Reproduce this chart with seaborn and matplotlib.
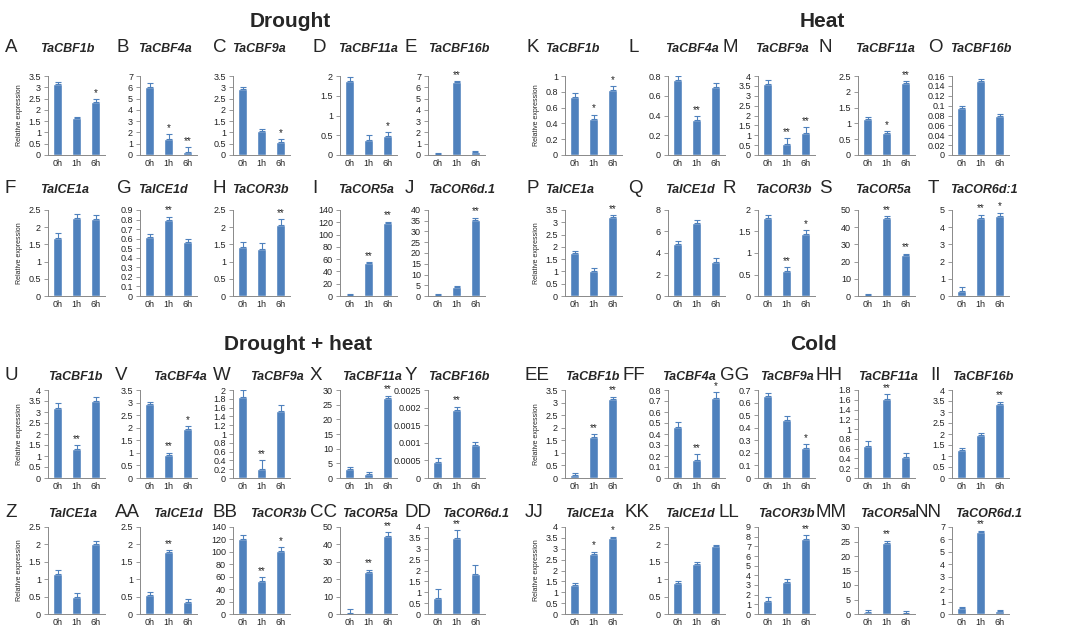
import matplotlib
matplotlib.use("Agg")
import matplotlib.pyplot as plt
import pandas as pd
import seaborn as sns

sns.set_style("white")
plt.rcParams["font.family"] = ["Liberation Sans", "DejaVu Sans"]

TIMES = ["0h", "1h", "6h"]
BLUE = "#4F81BD"
GREY = "#898989"

# --- dados ------------------------------------------------------------------
# linha 1: genes CBF, seca (A-E) e calor (K-O)
row1_letters = ["A", "B", "C", "D", "E", "K", "L", "M", "N", "O"]
row1_genes = ["TaCBF1b", "TaCBF4a", "TaCBF9a", "TaCBF11a", "TaCBF16b",
              "TaCBF1b", "TaCBF4a", "TaCBF9a", "TaCBF11a", "TaCBF16b"]
row1_values = [[3.15, 1.62, 2.37], [6.0, 1.45, 0.25], [2.92, 1.05, 0.58],
               [1.88, 0.39, 0.47], [0.1, 6.5, 0.25], [0.73, 0.46, 0.82],
               [0.76, 0.35, 0.69], [3.6, 0.55, 1.1], [1.15, 0.7, 2.28],
               [0.095, 0.149, 0.078]]
row1_errors = [[0.1, 0.08, 0.1], [0.38, 0.42, 0.45], [0.1, 0.12, 0.12],
               [0.1, 0.11, 0.1], [0.05, 0.07, 0.07], [0.05, 0.05, 0.05],
               [0.04, 0.04, 0.04], [0.2, 0.3, 0.3], [0.05, 0.06, 0.05],
               [0.005, 0.004, 0.005]]
row1_stars = [["", "", "*"], ["", "*", "**"], ["", "", "*"], ["", "", "*"],
              ["", "**", ""], ["", "*", "*"], ["", "**", ""], ["", "**", "**"],
              ["", "*", "**"], ["", "", ""]]
row1_ymax = [3.5, 7, 3.5, 2, 7, 1, 0.8, 4, 2.5, 0.16]
row1_ystep = [0.5, 1, 0.5, 0.5, 1, 0.2, 0.2, 0.5, 0.5, 0.02]

# linha 2: ICE/COR, seca (F-J) e calor (P-T)
row2_letters = ["F", "G", "H", "I", "J", "P", "Q", "R", "S", "T"]
row2_genes = ["TaICE1a", "TaICE1d", "TaCOR3b", "TaCOR5a", "TaCOR6d.1",
              "TaICE1a", "TaICE1d", "TaCOR3b", "TaCOR5a", "TaCOR6d:1"]
row2_values = [[1.7, 2.26, 2.24], [0.615, 0.795, 0.565], [1.43, 1.37, 2.07],
               [1.5, 53, 119], [0.3, 4, 35.5], [1.75, 1.03, 3.2],
               [4.8, 6.75, 3.2], [1.81, 0.58, 1.45], [0.3, 45.5, 24],
               [0.3, 4.55, 4.65]]
row2_errors = [[0.12, 0.12, 0.12], [0.035, 0.035, 0.03], [0.15, 0.17, 0.17],
               [1, 2, 2], [0.7, 0.7, 1], [0.1, 0.1, 0.1], [0.3, 0.35, 0.3],
               [0.08, 0.09, 0.08], [0.8, 1, 0.6], [0.2, 0.18, 0.2]]
row2_stars = [["", "", ""], ["", "**", ""], ["", "", "**"], ["", "**", "**"],
              ["", "", "**"], ["", "", "**"], ["", "", ""], ["", "**", "*"],
              ["", "**", "**"], ["", "**", "*"]]
row2_ymax = [2.5, 0.9, 2.5, 140, 40, 3.5, 8, 2, 50, 5]
row2_ystep = [0.5, 0.1, 0.5, 20, 5, 0.5, 2, 0.5, 10, 1]

# linha 3: genes CBF, seca + calor (U-Y) e frio (EE-II)
row3_letters = ["U", "V", "W", "X", "Y", "EE", "FF", "GG", "HH", "II"]
row3_genes = ["TaCBF1b", "TaCBF4a", "TaCBF9a", "TaCBF11a", "TaCBF16b",
              "TaCBF1b", "TaCBF4a", "TaCBF9a", "TaCBF11a", "TaCBF16b"]
row3_values = [[3.2, 1.3, 3.5], [2.95, 0.9, 1.93], [1.85, 0.2, 1.52],
               [3, 1.5, 27.3], [0.00046, 0.00192, 0.00093], [0.1, 1.62, 3.15],
               [0.46, 0.165, 0.73], [0.65, 0.46, 0.24], [0.65, 1.62, 0.42],
               [1.28, 1.96, 3.37]]
row3_errors = [[0.2, 0.2, 0.18], [0.08, 0.1, 0.12], [0.15, 0.2, 0.15],
               [0.6, 0.6, 0.8], [0.0001, 0.00011, 0.0001], [0.1, 0.12, 0.08],
               [0.05, 0.05, 0.05], [0.03, 0.03, 0.03], [0.11, 0.09, 0.1],
               [0.1, 0.1, 0.1]]
row3_stars = [["", "**", ""], ["", "**", "*"], ["", "**", ""], ["", "", "**"],
              ["", "**", ""], ["", "**", "**"], ["", "**", "*"], ["", "", "*"],
              ["", "**", ""], ["", "", "**"]]
row3_ymax = [4, 3.5, 2, 30, 0.0025, 3.5, 0.8, 0.7, 1.8, 4]
row3_ystep = [0.5, 0.5, 0.2, 5, 0.0005, 0.5, 0.1, 0.1, 0.2, 0.5]

# linha 4: ICE/COR, seca + calor (Z-DD) e frio (JJ-NN)
row4_letters = ["Z", "AA", "BB", "CC", "DD", "JJ", "KK", "LL", "MM", "NN"]
row4_genes = ["TaICE1a", "TaICE1d", "TaCOR3b", "TaCOR5a", "TaCOR6d.1",
              "TaICE1a", "TaICE1d", "TaCOR3b", "TaCOR5a", "TaCOR6d.1"]
row4_values = [[1.15, 0.5, 2.02], [0.55, 1.78, 0.35], [120, 53, 101],
               [0.5, 24, 45], [0.75, 3.5, 1.85], [1.35, 2.78, 3.5],
               [0.9, 1.45, 1.95], [1.35, 3.3, 7.8], [0.8, 24.5, 0.3],
               [0.5, 6.6, 0.25]]
row4_errors = [[0.12, 0.1, 0.08], [0.07, 0.06, 0.07], [7, 6, 7],
               [2.5, 1.5, 2], [0.4, 0.35, 0.4], [0.08, 0.08, 0.06],
               [0.04, 0.04, 0.04], [0.4, 0.35, 0.35], [0.5, 0.8, 0.6],
               [0.1, 0.1, 0.1]]
row4_stars = [["", "", ""], ["", "**", ""], ["", "**", "*"], ["", "**", "**"],
              ["", "**", ""], ["", "*", "*"], ["", "", ""], ["", "", "**"],
              ["", "**", ""], ["", "**", ""]]
row4_ymax = [2.5, 2.5, 140, 50, 4, 4, 2.5, 9, 30, 7]
row4_ystep = [0.5, 0.5, 20, 10, 0.5, 0.5, 0.5, 1, 5, 1]

section_titles = ["Drought", "Heat", "Drought + heat", "Cold"]

# --- layout (pixels) ---------------------------------------------------------
W, H = 1065, 634
COL_LEFT = [48, 140, 233, 340, 428, 565, 668, 758, 858, 952]
AX_W = 57
ROW_TOP = [76, 210, 390, 527]
ROW_BOTTOM = [155, 296, 478, 614]
TITLE_BASE = [52, 193, 380, 517]
LETTER_X = [
    [5, 117, 213, 312, 405, 527, 628, 722, 819, 928],
    [5, 117, 213, 312, 405, 527, 628, 722, 819, 928],
    [5, 115, 213, 310, 405, 525, 623, 720, 815, 930],
    [5, 115, 213, 310, 405, 525, 625, 718, 815, 915],
]
GENE_X = [
    [40, 138, 232, 338, 428, 545, 665, 755, 855, 950],
    [40, 138, 232, 338, 428, 545, 665, 755, 855, 950],
    [48, 153, 250, 342, 428, 565, 662, 760, 858, 952],
    [48, 153, 250, 342, 442, 565, 665, 758, 860, 955],
]
SECTION_POS = [(290, 27), (822, 27), (298, 350), (813, 350)]
YLABEL_COLS = [0, 5]


def desenhar_painel(ax, valores, erros, estrelas, ymax, ystep, ylabel):
    df = pd.DataFrame({"tempo": TIMES, "valor": valores})
    sns.barplot(data=df, x="tempo", y="valor", color=BLUE, saturation=1,
                width=0.45, errorbar=None, ax=ax)
    ax.errorbar(range(3), valores, yerr=[[0, 0, 0], erros], fmt="none",
                ecolor=BLUE, elinewidth=0.8, capsize=2, capthick=0.8)
    for i, s in enumerate(estrelas):
        if s:
            ax.text(i, valores[i] + erros[i] + ymax * 0.015, s, ha="center",
                    va="bottom", fontsize=7, color="#222222", clip_on=False)
    ticks = [round(k * ystep, 6) for k in range(int(round(ymax / ystep)) + 1)]
    ax.set_ylim(0, ymax)
    ax.set_yticks(ticks)
    ax.set_yticklabels([f"{t:g}" for t in ticks])
    ax.set_xlim(-0.5, 2.5)
    ax.set_xticks([-0.5, 0.5, 1.5, 2.5], minor=True)
    ax.tick_params(axis="x", which="major", length=0, labelsize=6.5,
                   pad=3, labelcolor="#222222")
    ax.tick_params(axis="x", which="minor", length=3, color=GREY, width=0.6)
    ax.tick_params(axis="y", which="major", length=3, color=GREY, width=0.6,
                   labelsize=6.5, pad=2, labelcolor="#222222", left=True)
    for lado in ["top", "right"]:
        ax.spines[lado].set_visible(False)
    for lado in ["left", "bottom"]:
        ax.spines[lado].set_color(GREY)
        ax.spines[lado].set_linewidth(0.7)
    ax.set_xlabel("")
    if ylabel:
        ax.set_ylabel("Relative expression", fontsize=5, labelpad=4)
    else:
        ax.set_ylabel("")


fig = plt.figure(figsize=(W / 100, H / 100), dpi=100)

linhas = [
    (row1_letters, row1_genes, row1_values, row1_errors, row1_stars, row1_ymax, row1_ystep),
    (row2_letters, row2_genes, row2_values, row2_errors, row2_stars, row2_ymax, row2_ystep),
    (row3_letters, row3_genes, row3_values, row3_errors, row3_stars, row3_ymax, row3_ystep),
    (row4_letters, row4_genes, row4_values, row4_errors, row4_stars, row4_ymax, row4_ystep),
]

for r, (letras, genes, vals, errs, stars, ymaxs, ysteps) in enumerate(linhas):
    for c in range(10):
        left = COL_LEFT[c] / W
        bottom = 1 - ROW_BOTTOM[r] / H
        height = (ROW_BOTTOM[r] - ROW_TOP[r]) / H
        ax = fig.add_axes([left, bottom, AX_W / W, height])
        desenhar_painel(ax, vals[c], errs[c], stars[c], ymaxs[c], ysteps[c],
                        c in YLABEL_COLS)
        yb = 1 - TITLE_BASE[r] / H
        fig.text(LETTER_X[r][c] / W, yb, letras[c], fontsize=13.5, ha="left",
                 va="baseline")
        fig.text(GENE_X[r][c] / W, yb, genes[c], fontsize=9, fontweight="bold",
                 fontstyle="italic", ha="left", va="baseline")

for titulo, (x, y) in zip(section_titles, SECTION_POS):
    fig.text(x / W, 1 - y / H, titulo, fontsize=15, fontweight="bold",
             ha="center", va="baseline")

fig.savefig("out.png", dpi=100)
